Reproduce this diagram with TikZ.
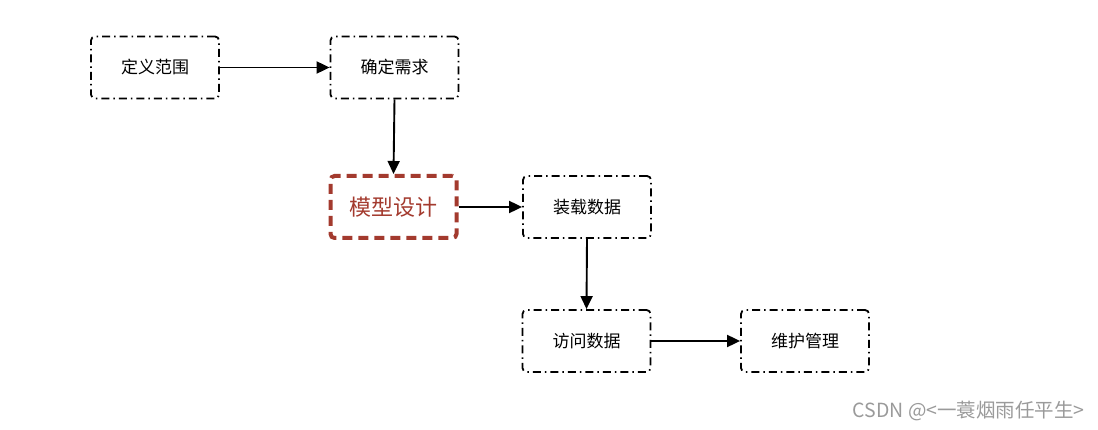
\documentclass[tikz,border=0pt]{standalone}
\usepackage{fontspec}
\setmainfont{Noto Sans CJK SC}
\newfontfamily\cjk{Noto Sans CJK SC}
\usetikzlibrary{arrows.meta}
\definecolor{redbox}{HTML}{A33A2E}
\definecolor{wm}{HTML}{9A9A9A}
\tikzset{
  x=1pt, y=-1pt,
  stepbox/.style={draw=black, line width=1.8pt, dash pattern=on 8pt off 4pt on 1.5pt off 4pt,
    rounded corners=4pt, minimum width=128pt, minimum height=62pt, inner sep=0pt,
    font=\cjk\fontsize{17}{20}\selectfont},
  keybox/.style={draw=redbox, line width=4pt, dash pattern=on 10pt off 6pt,
    rounded corners=4pt, minimum width=126pt, minimum height=62pt, inner sep=0pt,
    text=redbox, font=\cjk\fontsize{22}{26}\selectfont},
  conn/.style={draw=black, line width=1.9pt, -{Triangle[length=13pt,width=12pt]}}
}
\begin{document}
\begin{tikzpicture}
\useasboundingbox (0,0) rectangle (1098,430);
\node[stepbox] (a) at (155,67.5) {定义范围};
\node[stepbox] (b) at (394.5,67.5) {确定需求};
\node[keybox] (c) at (393.5,207) {模型设计};
\node[stepbox] (d) at (587,207) {装载数据};
\node[stepbox] (e) at (586.5,341) {访问数据};
\node[stepbox] (f) at (805,341) {维护管理};
\draw[conn] (a.east) -- (b.west);
\draw[conn] (b.south) -- (c.north);
\draw[conn] (c.east) -- (d.west);
\draw[conn] (d.south) -- (e.north);
\draw[conn] (e.east) -- (f.west);
\node[anchor=east, text=wm, font=\cjk\fontsize{19.5}{23}\selectfont, inner sep=0pt] (w) at (1085,411) {CSDN @<一蓑烟雨任平生>};
\end{tikzpicture}
\end{document}
